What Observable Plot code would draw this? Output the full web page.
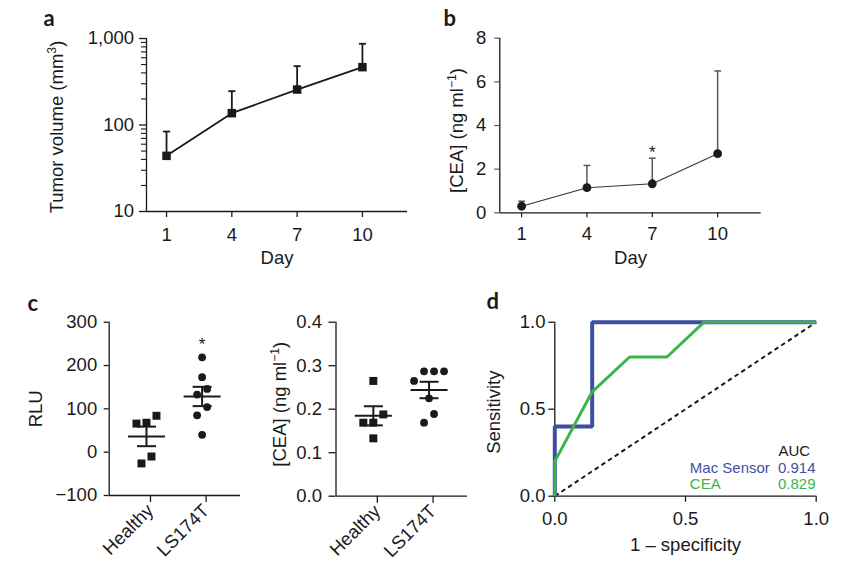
<!DOCTYPE html>
<html>
<head>
<meta charset="utf-8">
<script src="https://cdn.jsdelivr.net/npm/d3@7"></script>
<script src="https://cdn.jsdelivr.net/npm/@observablehq/plot@0.6"></script>
<style>
  html, body { margin: 0; padding: 0; background: #fff; }
  #fig { position: relative; width: 844px; height: 566px; overflow: hidden; background: #fff; }
  .panel { position: absolute; }
</style>
</head>
<body>
<div id="fig">
  <div class="panel" id="pa" style="left:0px;top:0px"></div>
  <div class="panel" id="pb" style="left:420px;top:0px"></div>
  <div class="panel" id="pc1" style="left:0px;top:280px"></div>
  <div class="panel" id="pc2" style="left:250px;top:280px"></div>
  <div class="panel" id="pd" style="left:500px;top:280px"></div>
</div>
<script>
// ---------------- DATA ----------------
// Panel a: tumor volume (mm3) by day, mean and upper error bar
const days = [1, 4, 7, 10];
const tumorMean = [44, 137, 257, 466];
const tumorErrTop = [84, 246, 479, 869];
const tumorTicks = [10, 100, 1000];

// Panel b: serum CEA (ng/ml) by day
const ceaDayMean = [0.30, 1.15, 1.33, 2.71];
const ceaDayErrTop = [0.53, 2.17, 2.50, 6.50];
const ceaDaySignif = ["", "", "*", ""];
const ceaDayTicks = [0, 2, 4, 6, 8];

// Panel c: groups
const groups = ["Healthy", "LS174T"];
const rluHealthy = [68, 66, 84, -10, -26];
const rluTumor = [219, 173, 146, 133, 104, 85, 40];
const rluSignif = ["", "*"];
const rluTicks = [-100, 0, 100, 200, 300];
const ceaHealthy = [0.265, 0.188, 0.169, 0.169, 0.133];
const ceaTumor = [0.287, 0.287, 0.287, 0.265, 0.225, 0.189, 0.169];
const ceaTicks = [0, 0.1, 0.2, 0.3, 0.4];

// Panel d: ROC curves
const rocSeries = ["Mac Sensor", "CEA"];
const rocMacFpr = [0, 0, 0.143, 0.143, 1];
const rocMacTpr = [0, 0.4, 0.4, 1, 1];
const rocCeaFpr = [0, 0, 0.143, 0.286, 0.429, 0.571, 1];
const rocCeaTpr = [0, 0.2, 0.6, 0.8, 0.8, 1, 1];
const aucValues = [0.914, 0.829];
const rocTicks = [0, 0.5, 1];

// ---------------- STYLE ----------------
const FONT = '"Liberation Sans", Arial, Helvetica, sans-serif';
const LETTER_FONT = 'Lato, "Open Sans", sans-serif';
const INK = "#1a1a1a";
const FS = 18.5;
const BLUE = "#3e4fa3";
const GREEN = "#3cb44b";
const rocColors = [BLUE, GREEN];
const baseStyle = { fontFamily: FONT, fontSize: FS + "px", color: INK, background: "transparent", overflow: "visible" };

// horizontal bar symbol (pixel-sized caps / mean lines)
const hbar = { draw(ctx, size) { const r = Math.sqrt(size / Math.PI); ctx.moveTo(-r, 0); ctx.lineTo(r, 0); } };

function minusFmt(d) { return d < 0 ? "\u2212" + Math.abs(d) : String(d); }

// turn unicode superscripts into raised tspans
function supify(svg) {
  const map = { "\u207B": "\u2212", "\u00B9": "1", "\u00B2": "2", "\u00B3": "3" };
  const re = /([\u207B\u00B9\u00B2\u00B3]+)/;
  const ns = "http://www.w3.org/2000/svg";
  svg.querySelectorAll("text").forEach(t => {
    if (t.querySelector("tspan")) return;
    const s = t.textContent;
    if (!re.test(s)) return;
    t.textContent = "";
    let shifted = false;
    s.split(re).forEach(p => {
      if (!p) return;
      const ts = document.createElementNS(ns, "tspan");
      if (re.test(p)) {
        ts.textContent = [...p].map(c => map[c]).join("");
        ts.setAttribute("font-size", (FS * 0.66).toFixed(1));
        ts.setAttribute("dy", "-7");
        shifted = true;
      } else {
        ts.textContent = p;
        if (shifted) { ts.setAttribute("dy", "7"); shifted = false; }
      }
      t.appendChild(ts);
    });
  });
  return svg;
}

// cluster points whose vertical distance (px) is below gap and spread them horizontally
function swarm(values, pxPerUnit, gap) {
  const idx = d3.range(values.length).sort((a, b) => values[a] - values[b]);
  const off = new Array(values.length).fill(0);
  let cluster = [idx[0]];
  const flush = () => cluster.forEach((j, k) => { off[j] = (k - (cluster.length - 1) / 2) * gap; });
  for (let n = 1; n < idx.length; n++) {
    if ((values[idx[n]] - values[idx[n - 1]]) * pxPerUnit < gap) cluster.push(idx[n]);
    else { flush(); cluster = [idx[n]]; }
  }
  flush();
  return off;
}

function yLabel(text, dx, dy) {
  return Plot.text([text], { frameAnchor: "left", rotate: -90, dx, dy, textAnchor: "middle", lineAnchor: "middle", fontSize: FS, fill: INK });
}
function xLabel(text, dy) {
  return Plot.text([text], { frameAnchor: "bottom", dy, textAnchor: "middle", lineAnchor: "bottom", fontSize: FS, fill: INK });
}
function letter(text, dx, dy) {
  return Plot.text([text], { frameAnchor: "top-left", dx, dy, lineAnchor: "bottom", textAnchor: "start",
    fontFamily: LETTER_FONT, fontWeight: "bold", fontSize: 22, fill: INK });
}

// ---------------- PANEL A ----------------
const tumor = days.map((d, i) => ({ day: d, mean: tumorMean[i], top: tumorErrTop[i] }));
const minorTicks = d3.range(2, 10).flatMap(m => [m * 10, m * 100]);
const xDomA = [0.08, 12.07];
const A = Plot.plot({
  width: 420, height: 270, marginLeft: 146, marginRight: 13, marginTop: 38, marginBottom: 59,
  style: baseStyle,
  x: { type: "linear", domain: xDomA },
  y: { type: "log", domain: [tumorTicks[0], tumorTicks[tumorTicks.length - 1]] },
  marks: [
    Plot.axisX({ ticks: days, tickSize: 6, tickPadding: 10, tickFormat: d => String(d), label: null, strokeWidth: 1.3 }),
    Plot.axisY({ ticks: tumorTicks, tickFormat: d3.format(","), tickSize: 7, tickPadding: 5.4, label: null, strokeWidth: 1.3 }),
    Plot.axisY({ ticks: minorTicks, tickFormat: () => "", tickSize: 5, label: null, strokeWidth: 1.1 }),
    Plot.ruleY([tumorTicks[0]], { stroke: INK, strokeWidth: 1.3 }),
    Plot.ruleX([xDomA[0]], { stroke: INK, strokeWidth: 1.3 }),
    Plot.ruleX(tumor, { x: "day", y1: "mean", y2: "top", stroke: INK, strokeWidth: 1.8 }),
    Plot.dot(tumor, { x: "day", y: "top", symbol: hbar, r: 3.6, fill: "none", stroke: INK, strokeWidth: 1.8 }),
    Plot.line(tumor, { x: "day", y: "mean", stroke: INK, strokeWidth: 1.8 }),
    Plot.dot(tumor, { x: "day", y: "mean", symbol: "square", r: 4.8, fill: INK }),
    yLabel("Tumor volume (mm\u00B3)", -89, 2),
    xLabel("Day", 52),
    letter("a", -103, -12.5)
  ]
});
document.getElementById("pa").appendChild(supify(A));

// ---------------- PANEL B ----------------
const ceaDay = days.map((d, i) => ({ day: d, mean: ceaDayMean[i], top: ceaDayErrTop[i], sig: ceaDaySignif[i] }));
const xDomB = [0, 12];
const B = Plot.plot({
  width: 424, height: 270, marginLeft: 79.3, marginRight: 83.3, marginTop: 37.7, marginBottom: 57.7,
  style: baseStyle,
  x: { type: "linear", domain: xDomB },
  y: { type: "linear", domain: [ceaDayTicks[0], ceaDayTicks[ceaDayTicks.length - 1]] },
  marks: [
    Plot.axisX({ ticks: days, tickSize: 5, tickPadding: 9.4, tickFormat: d => String(d), label: null, strokeWidth: 1.2 }),
    Plot.axisY({ ticks: ceaDayTicks, tickFormat: d => String(d), tickSize: 5, tickPadding: 8.6, label: null, strokeWidth: 1.2, stroke: "#555" }),
    Plot.ruleY([ceaDayTicks[0]], { stroke: INK, strokeWidth: 1.3 }),
    Plot.ruleX([xDomB[0]], { stroke: INK, strokeWidth: 1.3 }),
    Plot.ruleX(ceaDay, { x: "day", y1: "mean", y2: "top", stroke: "#5a5a5a", strokeWidth: 1.5 }),
    Plot.dot(ceaDay, { x: "day", y: "top", symbol: hbar, r: 3.4, fill: "none", stroke: "#5a5a5a", strokeWidth: 1.5 }),
    Plot.line(ceaDay, { x: "day", y: "mean", stroke: "#333", strokeWidth: 1.1 }),
    Plot.dot(ceaDay, { x: "day", y: "mean", symbol: "circle", r: 4.4, fill: INK }),
    Plot.text(ceaDay.filter(d => d.sig), { x: "day", y: "top", text: "sig", dy: -6, lineAnchor: "middle", fontSize: 17, fill: INK }),
    yLabel("[CEA] (ng ml\u207B\u00B9)", -42.5, 5),
    xLabel("Day", 50.7),
    letter("b", -56.3, -12.7)
  ]
});
document.getElementById("pb").appendChild(supify(B));

// ---------------- PANEL C ----------------
function dotPlot({ el, healthy, tumorVals, ticks, fmt, ml, mr, mt, mb, width, height, tickSize, tickPadding, label, labelDx, labelDy, signif, showLetter }) {
  const xDom = [0.33, 2.69];
  const frameW = width - ml - mr, frameH = height - mt - mb;
  const yDom = [ticks[0], ticks[ticks.length - 1]];
  const pxPerY = frameH / (yDom[1] - yDom[0]);
  const pxPerX = frameW / (xDom[1] - xDom[0]);
  const sets = [healthy, tumorVals];
  const pts = sets.map((vals, gi) => {
    const off = swarm(vals, pxPerY, 10);
    return vals.map((v, i) => ({ g: gi + 1, v, x: gi + 1 + off[i] / pxPerX }));
  });
  const stats = sets.map((vals, gi) => {
    const m = d3.mean(vals), se = d3.deviation(vals) / Math.sqrt(vals.length);
    return { g: gi + 1, mean: m, lo: m - se, hi: m + se, max: d3.max(vals), sig: signif[gi] };
  });
  const marks = [
    Plot.axisX({ ticks: [1, 2], tickFormat: d => groups[d - 1], tickRotate: -45, tickSize: 7, tickPadding: 5, dx: 4, label: null, strokeWidth: 1.3 }),
    Plot.axisY({ ticks, tickFormat: fmt, tickSize, tickPadding, label: null, strokeWidth: 1.3 }),
    Plot.ruleY([yDom[0]], { stroke: INK, strokeWidth: 1.3 }),
    Plot.ruleX([xDom[0]], { stroke: INK, strokeWidth: 1.3 }),
    Plot.dot(pts[0], { x: "x", y: "v", symbol: "square", r: 4.5, fill: INK }),
    Plot.dot(pts[1], { x: "x", y: "v", symbol: "circle", r: 3.9, fill: INK }),
    Plot.ruleX(stats, { x: "g", y1: "lo", y2: "hi", stroke: INK, strokeWidth: 2 }),
    Plot.dot(stats, { x: "g", y: "mean", symbol: hbar, r: 18.5, fill: "none", stroke: INK, strokeWidth: 2 }),
    Plot.dot(stats, { x: "g", y: "lo", symbol: hbar, r: 9.5, fill: "none", stroke: INK, strokeWidth: 2 }),
    Plot.dot(stats, { x: "g", y: "hi", symbol: hbar, r: 9.5, fill: "none", stroke: INK, strokeWidth: 2 }),
    Plot.text(stats.filter(d => d.sig), { x: "g", y: "max", text: "sig", dy: -13, lineAnchor: "middle", fontSize: 17, fill: INK }),
    yLabel(label, labelDx, labelDy)
  ];
  if (showLetter) marks.push(letter("c", -81.7, -11.7));
  const svg = Plot.plot({
    width, height, marginLeft: ml, marginRight: mr, marginTop: mt, marginBottom: mb,
    style: baseStyle,
    x: { type: "linear", domain: xDom },
    y: { type: "linear", domain: yDom },
    marks
  });
  document.getElementById(el).appendChild(supify(svg));
}

dotPlot({ el: "pc1", healthy: rluHealthy, tumorVals: rluTumor, ticks: rluTicks, fmt: minusFmt,
  ml: 108.7, mr: 10, mt: 41.7, mb: 71, width: 250, height: 286, tickSize: 5, tickPadding: 7,
  label: "RLU", labelDx: -72.9, labelDy: 0, signif: rluSignif, showLetter: true });

dotPlot({ el: "pc2", healthy: ceaHealthy, tumorVals: ceaTumor, ticks: ceaTicks, fmt: d3.format(".1f"),
  ml: 85.5, mr: 33, mt: 41.7, mb: 70.3, width: 250, height: 286, tickSize: 7, tickPadding: 7,
  label: "[CEA] (ng ml\u207B\u00B9)", labelDx: -55.5, labelDy: -5, signif: ["", ""], showLetter: false });

// ---------------- PANEL D ----------------
const rocData = [
  rocMacFpr.map((x, i) => ({ series: rocSeries[0], fpr: x, tpr: rocMacTpr[i] })),
  rocCeaFpr.map((x, i) => ({ series: rocSeries[1], fpr: x, tpr: rocCeaTpr[i] }))
];
const rocDom = [rocTicks[0], rocTicks[rocTicks.length - 1]];
const legendRows = rocSeries.map((s, i) => ({ name: s, auc: d3.format(".3f")(aucValues[i]), color: rocColors[i] }));
const legendMarks = [
  Plot.text(["AUC"], { frameAnchor: "bottom-right", dx: -6, dy: -44.7, textAnchor: "end", lineAnchor: "middle", fontSize: 15, fill: INK })
];
legendRows.forEach((r, i) => {
  const dy = -28.4 + i * 16.7;
  legendMarks.push(Plot.text([r.name], { frameAnchor: "bottom-right", dx: -126.4, dy, textAnchor: "start", lineAnchor: "middle", fontSize: 15, fill: r.color }));
  legendMarks.push(Plot.text([r.auc], { frameAnchor: "bottom-right", dx: -0.7, dy, textAnchor: "end", lineAnchor: "middle", fontSize: 15, fill: r.color }));
});
const D = Plot.plot({
  width: 344, height: 286, marginLeft: 54.3, marginRight: 28.3, marginTop: 41.7, marginBottom: 70.3,
  style: baseStyle,
  x: { type: "linear", domain: rocDom },
  y: { type: "linear", domain: rocDom },
  marks: [
    Plot.axisX({ ticks: rocTicks, tickFormat: d3.format(".1f"), tickSize: 6, tickPadding: 10, label: null, strokeWidth: 1.3 }),
    Plot.axisY({ ticks: rocTicks, tickFormat: d3.format(".1f"), tickSize: 6, tickPadding: 3.3, label: null, strokeWidth: 1.3 }),
    Plot.ruleY([rocDom[0]], { stroke: INK, strokeWidth: 1.3 }),
    Plot.ruleX([rocDom[0]], { stroke: INK, strokeWidth: 1.3 }),
    Plot.link([rocDom], { x1: d => d[0], y1: d => d[0], x2: d => d[1], y2: d => d[1], stroke: INK, strokeWidth: 2, strokeDasharray: "4.5,3.5" }),
    Plot.line(rocData[0], { x: "fpr", y: "tpr", stroke: rocColors[0], strokeWidth: 4, strokeLinejoin: "miter", strokeLinecap: "butt" }),
    Plot.line(rocData[1], { x: "fpr", y: "tpr", stroke: rocColors[1], strokeWidth: 3, strokeLinejoin: "miter", strokeLinecap: "butt" }),
    ...legendMarks,
    yLabel("Sensitivity", -61, 3),
    xLabel("1 \u2013 specificity", 55),
    letter("d", -68.3, -13.7)
  ]
});
document.getElementById("pd").appendChild(supify(D));
</script>
</body>
</html>
